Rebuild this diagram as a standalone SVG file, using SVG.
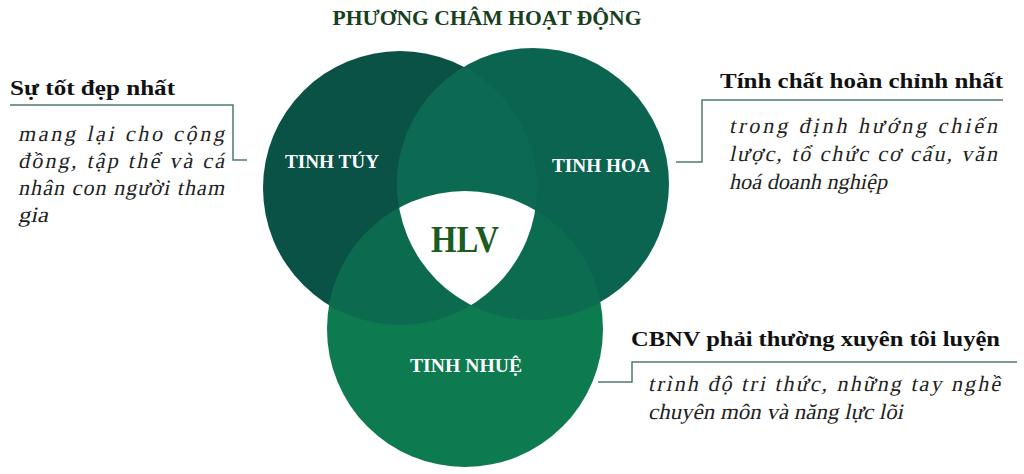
<svg xmlns="http://www.w3.org/2000/svg" width="1024" height="474" viewBox="0 0 1024 474">
  <style>
    .ttl{font-family:"Liberation Serif",serif;font-weight:bold;fill:#111;}
    .it{font-family:"Liberation Serif","DejaVu Serif","Times New Roman",serif;font-weight:normal;font-size:22px;fill:#222;}
    .lbl{font-family:"Liberation Serif",serif;font-weight:bold;font-size:19px;fill:#ffffff;text-anchor:middle;}
    .conn{fill:none;stroke:#4e7b72;stroke-width:1.5;}
  </style>
  <defs>
    <clipPath id="cL"><circle cx="400" cy="188" r="137"/></clipPath>
    <clipPath id="cR"><circle cx="533" cy="184" r="136"/></clipPath>
  </defs>
  <rect width="1024" height="474" fill="#ffffff"/>
  <text x="487" y="25" text-anchor="middle" font-family="Liberation Serif, serif" font-weight="bold" font-size="22" fill="#17401d" textLength="309" lengthAdjust="spacingAndGlyphs">PHƯƠNG CHÂM HOẠT ĐỘNG</text>

  <g id="venn">
    <circle id="circle-tinh-tuy" cx="400" cy="188" r="137" fill="#0a5246"/>
    <circle id="circle-tinh-hoa" cx="533" cy="184" r="136" fill="#0b644f"/>
    <circle cx="533" cy="184" r="136" fill="#0d6a52" clip-path="url(#cL)"/>
    <circle id="circle-tinh-nhue" cx="465" cy="329" r="138" fill="#0d7a4f"/>
    <circle cx="465" cy="329" r="138" fill="#0c6b4e" clip-path="url(#cL)"/>
    <circle cx="465" cy="329" r="138" fill="#0c6c50" clip-path="url(#cR)"/>
    <g clip-path="url(#cL)">
      <circle cx="465" cy="329" r="138" fill="#ffffff" clip-path="url(#cR)"/>
    </g>
  </g>

  <g id="node-tinh-tuy"><text class="lbl" x="332" y="168" textLength="94" lengthAdjust="spacingAndGlyphs">TINH TÚY</text></g>
  <g id="node-tinh-hoa"><text class="lbl" x="601" y="172" textLength="98" lengthAdjust="spacingAndGlyphs">TINH HOA</text></g>
  <g id="node-tinh-nhue"><text class="lbl" x="466" y="372" textLength="112" lengthAdjust="spacingAndGlyphs">TINH NHUỆ</text></g>
  <g id="node-hlv"><text x="465" y="252" text-anchor="middle" font-family="Liberation Serif, serif" font-weight="bold" font-size="38" fill="#1a5c22" textLength="68" lengthAdjust="spacingAndGlyphs">HLV</text></g>

  <g id="connectors">
    <polyline class="conn" points="10,105 233,105 233,160 247,160"/>
    <polyline class="conn" points="1003,100 702,100 702,162 676,162"/>
    <polyline class="conn" points="1017,362 632,362 632,382 598,382"/>
  </g>

  <g id="note-left">
    <text class="ttl" x="10" y="95" font-size="22" textLength="165" lengthAdjust="spacingAndGlyphs">Sự tốt đẹp nhất</text>
    <text class="it" transform="translate(18,141) skewX(-12)" textLength="206" lengthAdjust="spacing">mang lại cho cộng</text>
    <text class="it" transform="translate(18,168) skewX(-12)" textLength="206" lengthAdjust="spacing">đồng, tập thể và cá</text>
    <text class="it" transform="translate(18,195) skewX(-12)" textLength="206" lengthAdjust="spacing">nhân con người tham</text>
    <text class="it" transform="translate(18,222) skewX(-12)" textLength="30" lengthAdjust="spacingAndGlyphs">gia</text>
  </g>

  <g id="note-right">
    <text class="ttl" x="720" y="88" font-size="22" textLength="283" lengthAdjust="spacingAndGlyphs">Tính chất hoàn chỉnh nhất</text>
    <text class="it" transform="translate(729,133) skewX(-12)" textLength="268" lengthAdjust="spacing">trong định hướng chiến</text>
    <text class="it" transform="translate(729,161) skewX(-12)" textLength="268" lengthAdjust="spacing">lược, tổ chức cơ cấu, văn</text>
    <text class="it" transform="translate(729,189) skewX(-12)" textLength="158" lengthAdjust="spacingAndGlyphs">hoá doanh nghiệp</text>
  </g>

  <g id="note-bottom">
    <text class="ttl" x="631" y="346" font-size="22" textLength="369" lengthAdjust="spacingAndGlyphs">CBNV phải thường xuyên tôi luyện</text>
    <text class="it" transform="translate(648,391) skewX(-12)" textLength="352" lengthAdjust="spacing">trình độ tri thức, những tay nghề</text>
    <text class="it" transform="translate(648,419) skewX(-12)" textLength="255" lengthAdjust="spacingAndGlyphs">chuyên môn và năng lực lõi</text>
  </g>
</svg>
